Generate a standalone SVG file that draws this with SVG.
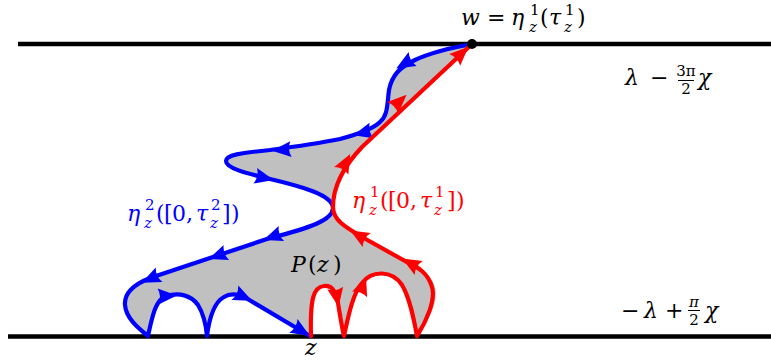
<svg xmlns="http://www.w3.org/2000/svg" xmlns:xlink="http://www.w3.org/1999/xlink" width="771" height="362" viewBox="0 0 771 362">
<style>
text{font-family:"DejaVu Serif",serif;font-size:22px;fill:#000}
.i{font-style:italic}
.s{font-size:15px}
.b{fill:#0000ff}
.r{fill:#ff0000}
.bl{fill:none;stroke:#0000ff;stroke-width:4.2;stroke-linejoin:round;stroke-linecap:round}
.rl{fill:none;stroke:#ff0000;stroke-width:4.2;stroke-linejoin:round;stroke-linecap:round}
.edge{stroke:#000;stroke-width:4.5}
</style>
<defs>
<path id="ah" d="M9,0 L-10,-8 Q-6,0 -10,8 Z"/>
</defs>
<g id="region">
<path fill="#c0c0c0" d="M472,44 C455,47 430,53 415,60 C400,67 392,75 389,90 C387,105 388,115 380,122 C372,130 355,135 340,139 C320,143 300,146 270,150 C240,153 226,155 226,161 C226,168 245,173 270,179 C300,186 333,195 333,208 C333,220 310,228 270,238 L150,278 C135,284 124,293 125,305 C126,318 138,328 148,336 C152,318 155,300 166,296 C180,292 192,296 198,305 C203,313 206,325 207,336 C209,320 213,303 224,297 C232,292 240,295 246,298 L310,336 C310,300 313,287 324,286 C333,285 336,293 338,303 C340,315 342,328 344,336 C348,318 352,295 362,283 C372,270 392,270 402,285 C410,298 414,320 417,336 C429,322 439,300 435,287 C430,272 418,267 405,261 L362,237 C345,227 333,220 333,207 C333,185 345,165 362,147 L472,44 Z"/>
</g>
<g id="boundaries">
<line class="edge" x1="18" y1="44" x2="771" y2="44"/>
<line class="edge" x1="8" y1="336.5" x2="771" y2="336.5"/>
</g>
<g id="connectors">
<g id="eta2">
<path class="bl" d="M472,44 C455,47 430,53 415,60 C400,67 392,75 389,90 C387,105 388,115 380,122 C372,130 355,135 340,139 C320,143 300,146 270,150 C240,153 226,155 226,161 C226,168 245,173 270,179 C300,186 333,195 333,208 C333,220 310,228 270,238 L150,278 C135,284 124,293 125,305 C126,318 138,328 148,336 C152,318 155,300 166,296 C180,292 192,296 198,305 C203,313 206,325 207,336 C209,320 213,303 224,297 C232,292 240,295 246,298 L310,336"/>
<g class="b">
<use xlink:href="#ah" transform="translate(404,64) rotate(150)"/>
<use xlink:href="#ah" transform="translate(362,133) rotate(165)"/>
<use xlink:href="#ah" transform="translate(281,150) rotate(175)"/>
<use xlink:href="#ah" transform="translate(265,178) rotate(13)"/>
<use xlink:href="#ah" transform="translate(272,237) rotate(160)"/>
<use xlink:href="#ah" transform="translate(217,256) rotate(160)"/>
<use xlink:href="#ah" transform="translate(150,279) rotate(155)"/>
<use xlink:href="#ah" transform="translate(168,296) rotate(-3)"/>
<use xlink:href="#ah" transform="translate(244,297) rotate(25)"/>
<use xlink:href="#ah" transform="translate(302,331) rotate(31)"/>
</g>
</g>
<g id="eta1">
<path class="rl" d="M311,336 C310,300 313,287 324,286 C333,285 336,293 338,303 C340,315 342,328 344,336 C348,318 352,295 362,283 C372,270 392,270 402,285 C410,298 414,320 417,336 C426,322 436,300 432,287 C428,273 418,267 405,261 L362,237 C345,227 333,220 333,207 C333,185 345,165 362,147 L472,44"/>
<g class="r">
<use xlink:href="#ah" transform="translate(337,298) rotate(80)"/>
<use xlink:href="#ah" transform="translate(363,285) rotate(-70)"/>
<use xlink:href="#ah" transform="translate(410,263) rotate(-150)"/>
<use xlink:href="#ah" transform="translate(358,235) rotate(-150)"/>
<use xlink:href="#ah" transform="translate(346,162) rotate(-62)"/>
<use xlink:href="#ah" transform="translate(400,101) rotate(-43)"/>
<use xlink:href="#ah" transform="translate(462,53) rotate(-43)"/>
</g>
</g>
</g>
<g id="w">
<circle cx="472" cy="44" r="5" fill="#000"/>
<text class="i" x="461" y="25">w</text>
<text x="487" y="25">=</text>
<text class="i" x="511" y="25">η</text>
<text class="s" x="530" y="15">1</text>
<text class="s i" x="529" y="32">z</text>
<text x="540" y="25">(</text>
<text class="i" x="549" y="25">τ</text>
<text class="s" x="565" y="15">1</text>
<text class="s i" x="564" y="32">z</text>
<text x="577" y="25">)</text>
</g>
<g id="upper-label">
<text class="i" x="625" y="85">λ</text>
<text x="650" y="85">−</text>
<text class="s" x="686" y="76" text-anchor="middle">3π</text>
<line x1="678" y1="80.5" x2="694" y2="80.5" stroke="#000" stroke-width="1"/>
<text class="s" x="686" y="94" text-anchor="middle">2</text>
<text class="i" x="698" y="85">χ</text>
</g>
<g id="lower-label">
<text x="621" y="318">−</text>
<text class="i" x="644" y="318">λ</text>
<text x="665" y="318">+</text>
<text class="s i" x="694" y="307" text-anchor="middle">π</text>
<line x1="688" y1="310.5" x2="700" y2="310.5" stroke="#000" stroke-width="1"/>
<text class="s" x="694" y="325" text-anchor="middle">2</text>
<text class="i" x="705" y="318">χ</text>
</g>
<g id="eta2-label">
<text class="i b" x="127" y="221">η</text>
<text class="s b" x="145" y="210">2</text>
<text class="s i b" x="144" y="228">z</text>
<text class="b" x="156" y="221">(</text>
<text class="b" x="164" y="221">[</text>
<text class="b" x="172" y="221">0</text>
<text class="b" x="186" y="221">,</text>
<text class="i b" x="196" y="221">τ</text>
<text class="s b" x="211" y="210">2</text>
<text class="s i b" x="210" y="228">z</text>
<text class="b" x="222" y="221">]</text>
<text class="b" x="231" y="221">)</text>
</g>
<g id="eta1-label">
<text class="i r" x="352" y="208">η</text>
<text class="s r" x="370" y="197">1</text>
<text class="s i r" x="369" y="215">z</text>
<text class="r" x="380" y="208">(</text>
<text class="r" x="388" y="208">[</text>
<text class="r" x="396" y="208">0</text>
<text class="r" x="410" y="208">,</text>
<text class="i r" x="420" y="208">τ</text>
<text class="s r" x="435" y="197">1</text>
<text class="s i r" x="434" y="215">z</text>
<text class="r" x="447" y="208">]</text>
<text class="r" x="456" y="208">)</text>
</g>
<g id="P">
<text class="i" x="291" y="272">P</text>
<text x="308" y="272">(</text>
<text class="i" x="317" y="272">z</text>
<text x="333" y="272">)</text>
</g>
<g id="z">
<text class="i" x="305" y="355">z</text>
</g>
</svg>
